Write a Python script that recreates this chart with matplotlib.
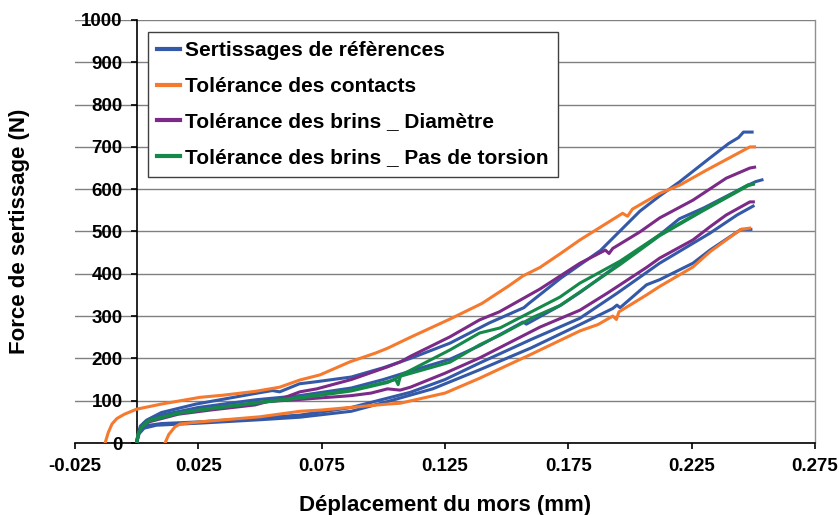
import matplotlib
matplotlib.use("Agg")
import matplotlib.pyplot as plt

plt.rcParams['font.family'] = ['Liberation Sans', 'DejaVu Sans']
plt.rcParams['axes.unicode_minus'] = False

# ---------------- data ----------------
series_names = ["Sertissages de réfèrences", "Tolérance des contacts",
                "Tolérance des brins _ Diamètre", "Tolérance des brins _ Pas de torsion"]

# Sertissages de références (4 essais)
ref1_x = [0.0, 0.0005, 0.0015, 0.004, 0.010, 0.024, 0.048, 0.055, 0.058, 0.066, 0.073, 0.087, 0.100, 0.111,
          0.127, 0.143, 0.157, 0.159, 0.172, 0.188, 0.204, 0.212, 0.220, 0.232, 0.240, 0.244, 0.246, 0.2495]
ref1_y = [0, 20, 40, 54, 72, 92, 117, 124, 121, 140, 145, 156, 178, 200,
          236, 284, 320, 330, 390, 455, 548, 584, 617, 672, 708, 722, 735, 735]
ref2_x = [0.0, 0.0008, 0.003, 0.010, 0.025, 0.048, 0.066, 0.087, 0.100, 0.111, 0.127, 0.139, 0.150, 0.1566,
          0.158, 0.172, 0.180, 0.196, 0.212, 0.220, 0.230, 0.248, 0.251, 0.2535]
ref2_y = [0, 25, 48, 66, 84, 102, 112, 130, 150, 170, 198, 230, 265, 286,
          281, 326, 357, 425, 492, 530, 556, 610, 618, 622]
ref3_x = [0.0, 0.0008, 0.002, 0.005, 0.010, 0.0257, 0.046, 0.0662, 0.087, 0.1017, 0.111, 0.125, 0.139, 0.160,
          0.1797, 0.195, 0.212, 0.2324, 0.2434, 0.2499]
ref3_y = [0, 22, 34, 42, 46, 50, 58, 66, 84, 106, 120, 150, 189, 245,
          295, 355, 425, 496, 539, 560]
ref4_x = [0.0, 0.001, 0.003, 0.008, 0.0257, 0.050, 0.0662, 0.087, 0.1017, 0.120, 0.139, 0.160, 0.1797, 0.193,
          0.1947, 0.196, 0.2067, 0.212, 0.2255, 0.2324, 0.245, 0.249]
ref4_y = [0, 22, 35, 42, 47, 55, 61, 75, 98, 128, 173, 225, 280, 318,
          326, 320, 374, 386, 425, 456, 505, 505]

# Tolérance des contacts (2 essais)
cont1_x = [-0.0128, -0.0115, -0.010, -0.008, -0.005, 0.0, 0.010, 0.0257, 0.035, 0.048, 0.058, 0.0662, 0.0743,
           0.0865, 0.097, 0.1017, 0.111, 0.127, 0.140, 0.151, 0.1566, 0.1635, 0.1716, 0.1797, 0.197, 0.199,
           0.201, 0.212, 0.2203, 0.231, 0.2486, 0.2505]
cont1_y = [0, 25, 45, 58, 68, 80, 92, 108, 113, 122, 132, 149, 161,
           192, 213, 224, 250, 293, 330, 372, 395, 415, 447, 480, 543, 536,
           553, 590, 610, 645, 700, 700]
cont2_x = [0.0115, 0.013, 0.0155, 0.0176, 0.0257, 0.050, 0.0662, 0.075, 0.1017, 0.1068, 0.125, 0.139, 0.160,
           0.1797, 0.187, 0.193, 0.1945, 0.1955, 0.2067, 0.212, 0.2255, 0.2324, 0.239, 0.245, 0.2485]
cont2_y = [0, 20, 38, 45, 50, 62, 75, 78, 92, 94, 118, 153, 210,
           265, 280, 300, 292, 310, 350, 370, 416, 452, 480, 505, 508]

# Tolérance des brins _ Diamètre (2 essais)
diam1_x = [0.0, 0.0005, 0.002, 0.005, 0.0168, 0.030, 0.048, 0.057, 0.0662, 0.073, 0.087, 0.1017, 0.107, 0.111,
           0.127, 0.139, 0.147, 0.1635, 0.1797, 0.190, 0.1915, 0.193, 0.204, 0.212, 0.2255, 0.239, 0.2486, 0.2505]
diam1_y = [0, 20, 38, 53, 70, 81, 94, 101, 121, 128, 150, 180, 192, 205,
           251, 291, 310, 364, 425, 456, 448, 460, 499, 532, 574, 626, 650, 652]
diam2_x = [0.0, 0.0005, 0.002, 0.005, 0.0168, 0.030, 0.048, 0.053, 0.0662, 0.087, 0.095, 0.1017, 0.1068, 0.111,
           0.125, 0.139, 0.1635, 0.1797, 0.191, 0.2067, 0.212, 0.2255, 0.2324, 0.239, 0.2486, 0.250]
diam2_y = [0, 18, 36, 50, 68, 78, 90, 98, 103, 112, 118, 128, 125, 132,
           165, 201, 274, 314, 355, 415, 437, 480, 511, 539, 570, 570]

# Tolérance des brins _ Pas de torsion (2 essais)
tors1_x = [0.0, 0.0005, 0.002, 0.005, 0.0168, 0.030, 0.048, 0.066, 0.087, 0.1017, 0.105, 0.106, 0.107, 0.127,
           0.139, 0.1473, 0.1716, 0.1797, 0.196, 0.212, 0.2296, 0.2478, 0.250]
tors1_y = [0, 20, 38, 54, 71, 82, 95, 108, 125, 145, 150, 138, 160, 220,
           260, 272, 345, 378, 430, 492, 551, 610, 612]
tors2_x = [0.0, 0.0005, 0.002, 0.005, 0.0168, 0.030, 0.048, 0.066, 0.087, 0.1017, 0.107, 0.127, 0.139, 0.1473,
           0.161, 0.1716, 0.1797, 0.196, 0.212, 0.2296, 0.2478, 0.250]
tors2_y = [0, 18, 36, 52, 70, 81, 94, 106, 123, 143, 158, 191, 232, 255,
           298, 325, 357, 422, 490, 549, 608, 612]

x_ticks = [-0.025, 0.025, 0.075, 0.125, 0.175, 0.225, 0.275]
x_tick_labels = ["-0.025", "0.025", "0.075", "0.125", "0.175", "0.225", "0.275"]
y_ticks = [0, 100, 200, 300, 400, 500, 600, 700, 800, 900, 1000]
y_tick_labels = [str(v) for v in y_ticks]

colors = ["#3459A8", "#F57A2E", "#7B2A88", "#14894A"]

# ---------------- plot ----------------
fig = plt.figure(figsize=(8.39, 5.15), dpi=100)
ax = fig.add_axes([0.0894, 0.1398, 0.9714 - 0.0894, 0.9612 - 0.1398])

groups = [
    [(ref1_x, ref1_y), (ref2_x, ref2_y), (ref3_x, ref3_y), (ref4_x, ref4_y)],
    [(cont1_x, cont1_y), (cont2_x, cont2_y)],
    [(diam1_x, diam1_y), (diam2_x, diam2_y)],
    [(tors1_x, tors1_y), (tors2_x, tors2_y)],
]
for gi, (curves, col, name) in enumerate(zip(groups, colors, series_names)):
    for ci, (xs, ys) in enumerate(curves):
        ax.plot(xs, ys, color=col, lw=2.2, solid_joinstyle='round',
                label=name if ci == 0 else None, zorder=3 + gi)

ax.set_xlim(-0.025, 0.275)
ax.set_ylim(0, 1000)
ax.set_xticks(x_ticks)
ax.set_xticklabels(x_tick_labels)
ax.set_yticks(y_ticks)
ax.set_yticklabels(y_tick_labels)

ax.yaxis.grid(True, color="#808080", lw=1.0)
ax.set_axisbelow(True)

# vertical axis crosses at x = 0, as in the original
ax.spines['left'].set_position(('data', 0.0))
ax.spines['left'].set_color("black")
ax.spines['left'].set_linewidth(1.2)
ax.spines['left'].set_zorder(2.5)
ax.spines['bottom'].set_color("black")
ax.spines['bottom'].set_linewidth(1.2)
ax.spines['top'].set_visible(False)
ax.spines['right'].set_color("#909090")
ax.spines['right'].set_linewidth(1.0)

ax.tick_params(axis='both', direction='out', length=4, width=1.2, color='black',
               labelsize=13.5)
ax.tick_params(axis='y', pad=6)
ax.tick_params(axis='x', pad=7)
for lab in ax.get_xticklabels() + ax.get_yticklabels():
    lab.set_fontweight('bold')

ax.set_xlabel("Déplacement du mors (mm)", fontsize=16, fontweight='bold', labelpad=14)
ax.set_ylabel("Force de sertissage (N)", fontsize=16, fontweight='bold')
ax.yaxis.set_label_coords(-0.0608, 0.5)

leg = ax.legend(loc='upper left', bbox_to_anchor=(0.0986, 0.972), frameon=True, fancybox=False,
                edgecolor='#404040', framealpha=1.0, prop={'weight': 'bold', 'size': 15},
                handlelength=1.1, handletextpad=0.25, labelspacing=0.8, borderpad=0.45,
                borderaxespad=0.0)
leg.get_frame().set_linewidth(1.0)
leg.set_zorder(10)
for h in leg.get_lines():
    h.set_linewidth(3.0)

fig.savefig("out.png", dpi=100, facecolor="white")
